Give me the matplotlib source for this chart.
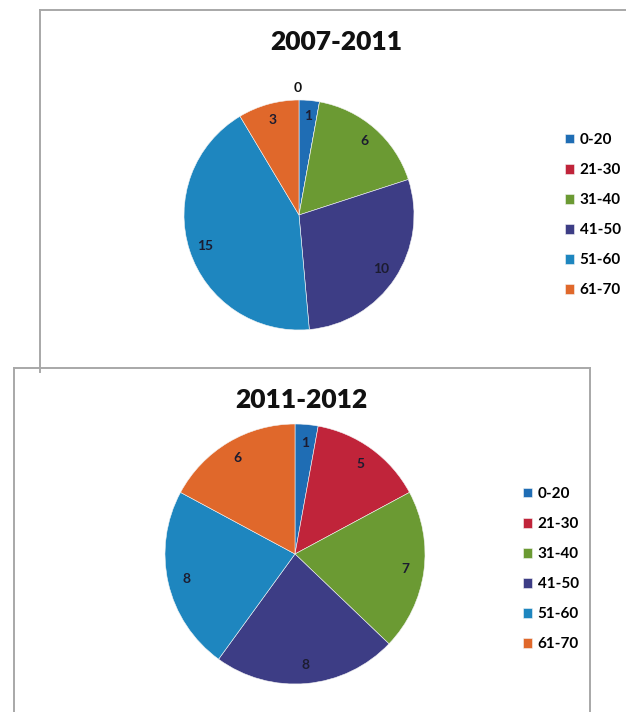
import matplotlib
matplotlib.use("Agg")
import matplotlib.pyplot as plt
from matplotlib.lines import Line2D

# ---------------------------------------------------------------- данные
groups = ["0-20", "21-30", "31-40", "41-50", "51-60", "61-70"]
counts_2007_2011 = [1, 0, 6, 10, 15, 3]
counts_2011_2012 = [1, 5, 7, 8, 8, 6]
titles = ["2007-2011", "2011-2012"]

colors = ["#1f6db4", "#c0243a", "#6b9a33", "#3d3d85", "#1e86bf", "#e0682b"]

W, H = 626, 712
fig = plt.figure(figsize=(W / 100, H / 100), dpi=100)
fig.patch.set_facecolor("white")


def px_box(cx, cy, r):
    """прямоугольник осей в долях фигуры по центру и радиусу в пикселях"""
    return [(cx - r) / W, 1 - (cy + r) / H, 2 * r / W, 2 * r / H]


def draw_pie(values, title, cx, cy, r, title_xy, leg_xy):
    ax = fig.add_axes(px_box(cx, cy, r))
    wedges, texts = ax.pie(values, colors=colors, startangle=90,
                           counterclock=False, labels=[str(v) for v in values],
                           labeldistance=0.86,
                           wedgeprops=dict(edgecolor="#f4f4f4", linewidth=0.4),
                           textprops=dict(fontsize=10, color="#1c1c30",
                                          family="Lato", weight="bold",
                                          ha="center", va="center"))
    for v, t in zip(values, texts):
        if v == 0:                      # нулевой сектор подписан снаружи
            x, y = t.get_position()
            t.set_position((x * 0.1 / 0.86 - 0.03, 1.1))
            t.set_color("#111111")
    ax.set_xlim(-1, 1); ax.set_ylim(-1, 1)
    ax.set_aspect("equal")
    fig.text(title_xy[0] / W, 1 - title_xy[1] / H, title, ha="center",
             va="center", fontsize=19, weight="heavy", family="Lato",
             color="#111111")
    fig.legend(wedges, groups, loc="upper left",
               bbox_to_anchor=(leg_xy[0] / W, 1 - leg_xy[1] / H),
               frameon=False, handlelength=0.6,
               handleheight=0.6, handletextpad=0.35, labelspacing=1.05,
               borderpad=0, borderaxespad=0,
               prop=dict(family="Lato", weight="bold", size=11))
    return ax


draw_pie(counts_2007_2011, titles[0], 299, 215, 115, (336, 42), (565, 133))
draw_pie(counts_2011_2012, titles[1], 295, 554, 130, (301, 400), (523, 487))

# рамки вокруг диаграмм (как на скане)
def line(x0, y0, x1, y1):
    fig.add_artist(Line2D([x0 / W, x1 / W], [1 - y0 / H, 1 - y1 / H],
                          transform=fig.transFigure, color="#a8a8a8", lw=1.4))

line(40, 10, 626, 10)
line(40, 10, 40, 372)
line(14, 368, 590, 368)
line(14, 368, 14, 712)
line(590, 368, 590, 712)

fig.savefig("out.png", dpi=100)
